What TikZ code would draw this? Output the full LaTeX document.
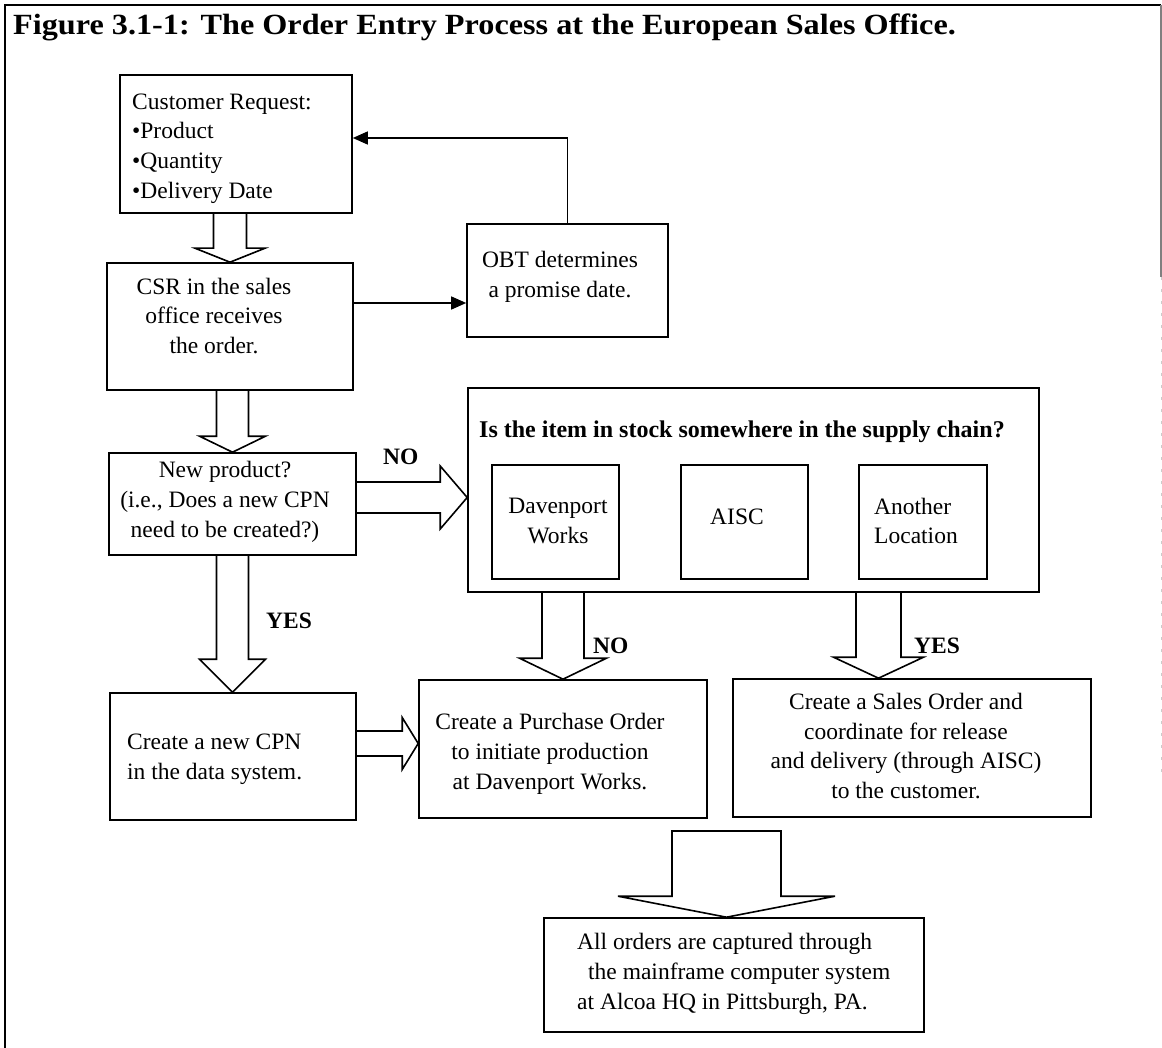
\documentclass[tikz,border=0pt]{standalone}
\usepackage{fontspec}
\setmainfont{Liberation Serif}
\newfontfamily\headfont{Liberation Serif}[FakeStretch=1.1]
\usetikzlibrary{arrows.meta,calc}

% rectangle node given by its corners: name, x1, y1, x2, y2
\newcommand\boxat[5]{%
  \node[box, minimum width={(#4)-(#2)}, minimum height={(#5)-(#3)}]
    (#1) at ({((#2)+(#4))/2},{((#3)+(#5))/2}) {};}

% hollow block arrow pointing down: start, end, shaft half width, head half width, head length
\newcommand\hollowdown[5]{%
  \draw[hollow] let \p1=#1, \p2=#2 in
    (\x1-#3pt,\y1) -- (\x1-#3pt,\y2+#5pt) -- (\x1-#4pt,\y2+#5pt) -- (\x1,\y2)
    -- (\x1+#4pt,\y2+#5pt) -- (\x1+#3pt,\y2+#5pt) -- (\x1+#3pt,\y1);}

% hollow block arrow pointing right: start, end, shaft half width, head half width, head length
\newcommand\hollowright[5]{%
  \draw[hollow] let \p1=#1, \p2=#2 in
    (\x1,\y1+#3pt) -- (\x2-#5pt,\y1+#3pt) -- (\x2-#5pt,\y1+#4pt) -- (\x2,\y1)
    -- (\x2-#5pt,\y1-#4pt) -- (\x2-#5pt,\y1-#3pt) -- (\x1,\y1-#3pt);}

\begin{document}
\begin{tikzpicture}[x=1pt,y=-1pt,
  box/.style={draw, line width=1.6pt, inner sep=0pt},
  txt/.style={inner sep=0pt, align=center, font=\fontsize{23.5}{29.7}\selectfont},
  txtl/.style={txt, align=left, anchor=west},
  lbl/.style={inner sep=0pt, anchor=base west, font=\fontsize{23.5}{28}\selectfont\bfseries},
  hollow/.style={draw, line width=1.6pt, line join=miter},
  thinarrow/.style={draw, line width=1.4pt, -{Triangle[length=15pt,width=13pt]}},
]
\useasboundingbox (0,0) rectangle (1162,1048);

% outer frame
\draw[line width=2pt] (5,1048) -- (5,5) -- (1161,5);
\draw[line width=1.2pt, gray] (1161,5) -- (1161,277);
\draw[line width=1pt, gray!40, dash pattern=on 3pt off 9pt] (1161,277) -- (1161,775);

% heading
\node[anchor=base west, inner sep=0pt, font=\headfont\fontsize{29.3}{36}\selectfont\bfseries]
  (title) at (13,35) {Figure 3.1-1: The Order Entry Process at the European Sales Office.};

% process boxes
\boxat{cust}{120}{75}{352}{213}
\boxat{csr}{107}{263}{353}{390}
\boxat{obt}{467}{224}{668}{337}
\boxat{newp}{109}{453}{356}{555}
\boxat{big}{468}{388}{1039}{592}
\boxat{dav}{492}{465}{619}{579}
\boxat{aisc}{681}{465}{808}{579}
\boxat{another}{859}{465}{987}{579}
\boxat{cpn}{110}{693}{356}{820}
\boxat{purch}{419}{680}{707}{818}
\boxat{sales}{733}{679}{1091}{817}
\boxat{final}{544}{918}{924}{1032}

% box texts
\node[txtl] (cust-t) at (132,148.5) {Customer Request:\\•Product\\•Quantity\\•Delivery Date};
\node[txt] (csr-t) at (214,316) {CSR in the sales\\office receives\\the order.};
\node[txt] (obt-t) at (560,277) {OBT determines\\a promise date.};
\node[txt] (newp-t) at (225,502) {New product?\\(i.e., Does a new CPN\\need to be created?)};
\node[lbl, font=\fontsize{24}{28}\selectfont\bfseries] (big-t) at (479,438) {Is the item in stock somewhere in the supply chain?};
\node[txt] (dav-t) at (558,521) {Davenport\\Works};
\node[txt] (aisc-t) at (737,517) {AISC};
\node[txtl] (another-t) at (874,521) {Another\\Location};
\node[txtl] (cpn-t) at (127,759) {Create a new CPN\\in the data system.};
\node[txt] (purch-t) at (550,754) {Create a Purchase Order\\to initiate production\\at Davenport Works.};
\node[txt] (sales-t) at (906,746) {Create a Sales Order and\\coordinate for release\\and delivery (through AISC)\\to the customer.};
\node[txtl] (final-t) at (577,974) {All orders are captured through\\\hspace*{11pt}the mainframe computer system\\at Alcoa HQ in Pittsburgh, PA.};

% decision labels
\node[lbl] (no1) at (383,464) {NO};
\node[lbl] (yes1) at (266,628) {YES};
\node[lbl] (no2) at (593,653) {NO};
\node[lbl] (yes2) at (914,653) {YES};

% thin connectors
\coordinate (csrA) at ([yshift=23.5pt]csr.east);
\draw[thinarrow] (csrA) -- (csrA -| obt.west);
\draw[thinarrow] (obt.north) |- ([yshift=6pt]cust.east);

% block arrows
\coordinate (noA) at ([yshift=6.5pt]newp.east);
\coordinate (cpnA) at ([yshift=13pt]cpn.east);
\coordinate (yesx) at (878.5,0);
\coordinate (fa) at (726.5,831);

\hollowdown{(cust.south -| csr.north)}{(csr.north)}{16.5}{35}{14}
\hollowdown{(csr.south -| newp.north)}{(newp.north)}{16}{33}{16}
\hollowdown{(newp.south)}{(newp.south |- cpn.north)}{16}{33}{33}
\hollowright{(noA)}{(noA -| big.west)}{15.5}{31.5}{27}
\hollowright{(cpnA)}{(cpnA -| purch.west)}{12.5}{26}{16}
\hollowdown{(big.south -| purch.north)}{(purch.north)}{21}{43.5}{21}
\hollowdown{(big.south -| yesx)}{(sales.north -| yesx)}{22.5}{45}{21}
\draw[hollow] let \p1=(fa), \p2=(fa |- final.north) in
  (\x1-54.5pt,\y1) -- (\x1-54.5pt,\y2+21pt) -- (\x1-108.5pt,\y2+21pt) -- (\x1,\y2)
  -- (\x1+108.5pt,\y2+21pt) -- (\x1+54.5pt,\y2+21pt) -- (\x1+54.5pt,\y1) -- cycle;
\end{tikzpicture}
\end{document}
